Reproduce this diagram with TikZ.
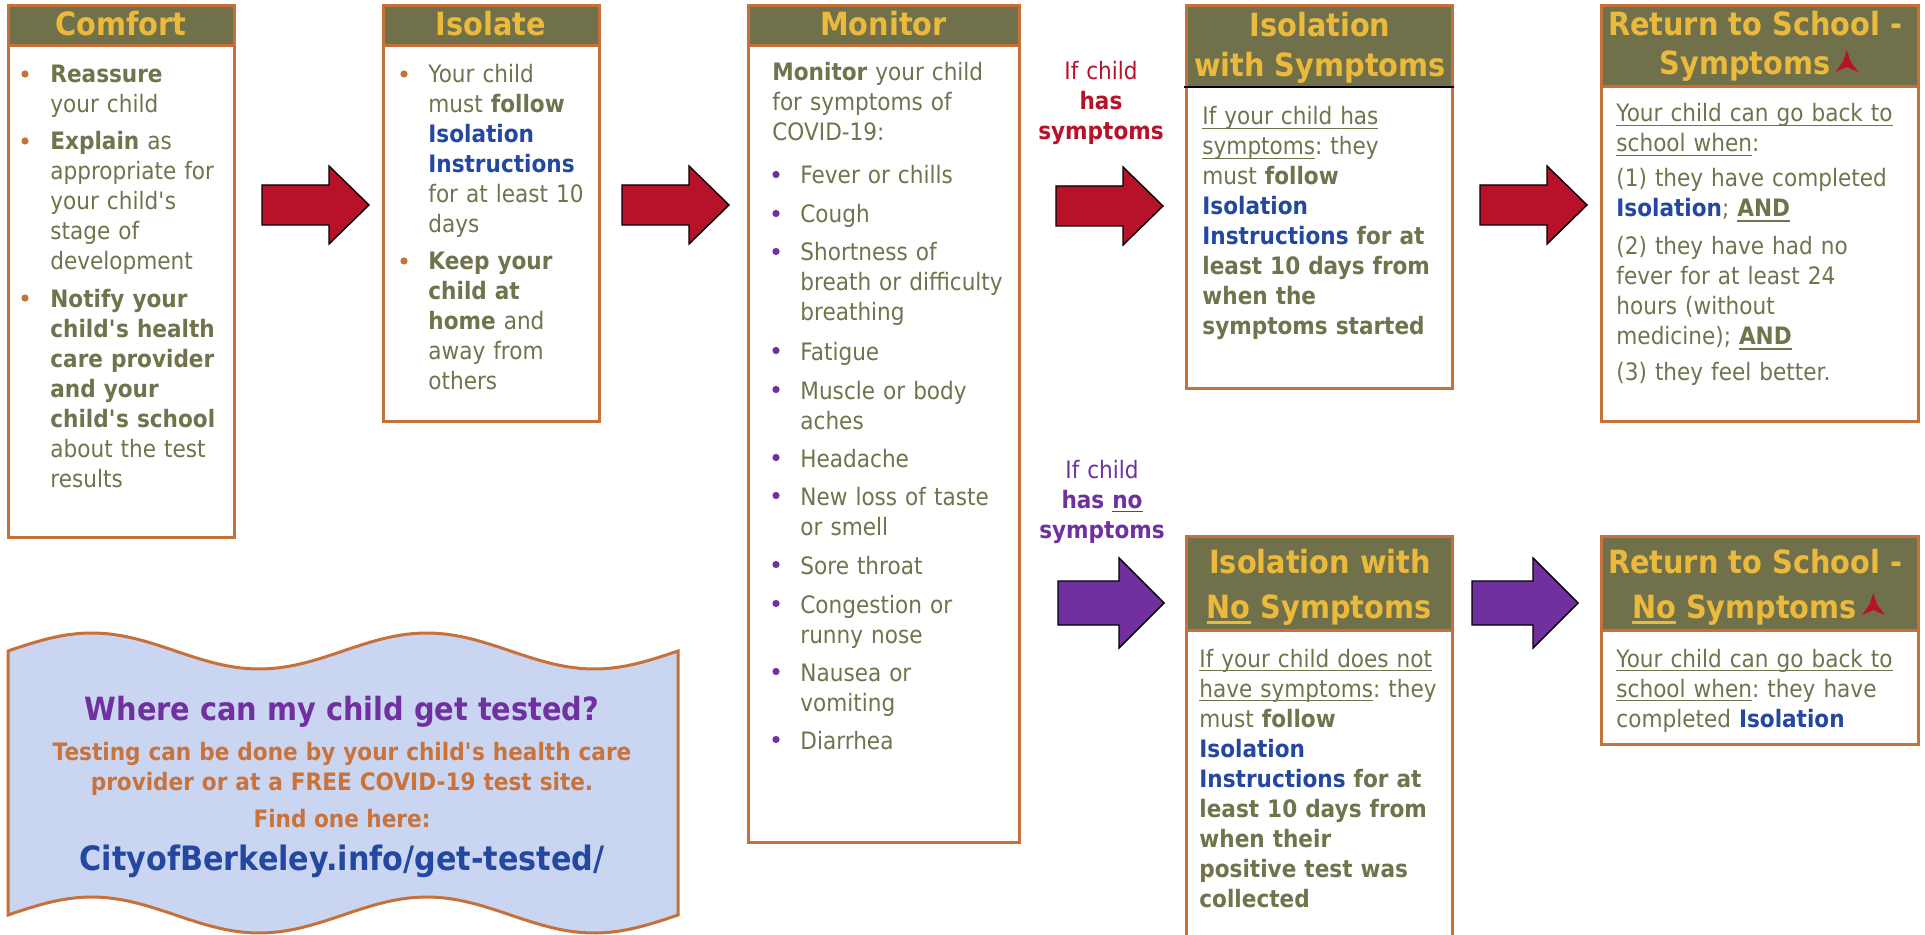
\documentclass[tikz,border=0pt]{standalone}
\usepackage{fontspec}
\setmainfont{DejaVu Sans}[FakeStretch=0.9]
\usetikzlibrary{fit,calc}
\definecolor{hdrc}{HTML}{70714A}
\definecolor{goldc}{HTML}{EBB93C}
\definecolor{borderc}{HTML}{C6703A}
\definecolor{txtc}{HTML}{71734C}
\definecolor{bluec}{HTML}{2447A0}
\definecolor{redc}{HTML}{B7122A}
\definecolor{purc}{HTML}{7030A0}
\definecolor{bannerc}{HTML}{CAD6F1}
\definecolor{orangec}{HTML}{C9733B}
\newcommand\myul[1]{\leavevmode\setbox0=\hbox{#1}\rlap{\vrule height -1.3pt depth 1.9pt width \wd0}\box0\relax}
\newcommand\myulb[1]{\leavevmode\setbox0=\hbox{#1}\rlap{\vrule height -1.3pt depth 2.3pt width \wd0}\box0\relax}
\newcommand\myulh[1]{\leavevmode\setbox0=\hbox{#1}\rlap{\vrule height -1.6pt depth 2.9pt width \wd0}\box0\relax}
\newcommand\ap{\textquotesingle}
\newcommand\hfnt{\fontsize{16}{20}\selectfont\bfseries\frenchspacing}
\newcommand\bfnt{\fontsize{12}{15}\selectfont\frenchspacing}
\tikzset{
  boxframe/.style={draw=borderc, line width=1.5pt, fill=white, inner sep=0pt},
  hdrbox/.style={draw=borderc, line width=1.5pt, fill=hdrc, inner sep=0pt},
  hdrtxt/.style={text=goldc, font=\hfnt, inner sep=0pt, anchor=base},
  bodytxt/.style={text=txtc, font=\bfnt, inner sep=0pt, anchor=base west, text width=170pt, align=left},
  lbl/.style={font=\bfnt, inner sep=0pt, anchor=base, text width=90pt, align=center},
  bul/.style={circle, inner sep=0pt, minimum size=3.6pt},
  obul/.style={bul, fill=borderc},
  pbul/.style={bul, fill=purc},
  redarrow/.pic={\path[draw=black, line width=0.7pt, fill=redc] (0,-20) -- (67,-20) -- (67,-39) -- (107,0) -- (67,39) -- (67,20) -- (0,20) -- cycle;},
  purarrow/.pic={\path[draw=black, line width=0.7pt, fill=purc] (0,-22) -- (61,-22) -- (61,-45) -- (106,0) -- (61,45) -- (61,22) -- (0,22) -- cycle;},
  tristar/.pic={\fill[redc] (270:13) -- (334:4) -- (38:14.5) -- (90:4) -- (142:14.5) -- (206:4) -- cycle;},
  bantxt/.style={inner sep=0pt, anchor=base, align=center}
}
\begin{document}
\begin{tikzpicture}[x=0.5pt, y=-0.5pt]
\useasboundingbox (0,0) rectangle (1925,935);
\fill[white] (0,0) rectangle (1925,935);

% ---------- Comfort ----------
\node[boxframe, fit={(8,6) (234,537)}] (comfort) {};
\node[hdrbox, fit={(8,6) (234,46)}] (comforthdr) {};
\node[hdrtxt] (comfortt) at (121,36) {Comfort};
\node[obul] (cb1) at (25,74) {};
\node[bodytxt] (ct1) at (50,83) {\textbf{Reassure}\\your child};
\node[obul] (cb2) at (25,141) {};
\node[bodytxt] (ct2) at (50,150) {\textbf{Explain} as\\appropriate for\\your child\ap s\\stage of\\development};
\node[obul] (cb3) at (25,298) {};
\node[bodytxt] (ct3) at (50,307) {\bfseries Notify your\\child\ap s health\\care provider\\and your\\child\ap s school\\\mdseries about the test\\results};

% ---------- Isolate ----------
\node[boxframe, fit={(383,6) (599,421)}] (isolate) {};
\node[hdrbox, fit={(383,6) (599,46)}] (isolatehdr) {};
\node[hdrtxt] (isolatet) at (491,36) {Isolate};
\node[obul] (ib1) at (404,74) {};
\node[bodytxt] (it1) at (428,83) {Your child\\must \textbf{follow}\\{\color{bluec}\bfseries Isolation}\\{\color{bluec}\bfseries Instructions}\\for at least 10\\days};
\node[obul] (ib2) at (404,261) {};
\node[bodytxt] (it2) at (428,270) {\bfseries Keep your\\child at\\home \mdseries and\\away from\\others};

% ---------- Monitor ----------
\node[boxframe, fit={(748,6) (1019,842)}] (monitor) {};
\node[hdrbox, fit={(748,6) (1019,46)}] (monitorhdr) {};
\node[hdrtxt] (monitort) at (883.5,36) {Monitor};
\node[bodytxt] (mintro) at (772,81) {\textbf{Monitor} your child\\for symptoms of\\COVID-19:};
\node[pbul] (mb1) at (776,174.5) {};
\node[bodytxt] (mt1) at (800,184) {Fever or chills};
\node[pbul] (mb2) at (776,213.5) {};
\node[bodytxt] (mt2) at (800,223) {Cough};
\node[pbul] (mb3) at (776,251.5) {};
\node[bodytxt] (mt3) at (800,261) {Shortness of\\breath or difficulty\\breathing};
\node[pbul] (mb4) at (776,350.5) {};
\node[bodytxt] (mt4) at (800,360) {Fatigue};
\node[pbul] (mb5) at (776,389.5) {};
\node[bodytxt] (mt5) at (800,399) {Muscle or body\\aches};
\node[pbul] (mb6) at (776,457.5) {};
\node[bodytxt] (mt6) at (800,467) {Headache};
\node[pbul] (mb7) at (776,495.5) {};
\node[bodytxt] (mt7) at (800,505) {New loss of taste\\or smell};
\node[pbul] (mb8) at (776,564.5) {};
\node[bodytxt] (mt8) at (800,574) {Sore throat};
\node[pbul] (mb9) at (776,603.5) {};
\node[bodytxt] (mt9) at (800,613) {Congestion or\\runny nose};
\node[pbul] (mb10) at (776,671.5) {};
\node[bodytxt] (mt10) at (800,681) {Nausea or\\vomiting};
\node[pbul] (mb11) at (776,739.5) {};
\node[bodytxt] (mt11) at (800,749) {Diarrhea};

% ---------- Isolation with Symptoms ----------
\node[boxframe, fit={(1186,6) (1452,388)}] (isosym) {};
\node[fill=hdrc, inner sep=0pt, fit={(1186,6) (1452,87)}] (isosymhdr) {};
\draw[borderc, line width=1.5pt] (1186,87) -- (1186,6) -- (1452,6) -- (1452,87);
\draw[black, line width=1.3pt] (1184,87) -- (1454,87);
\node[hdrtxt] (isosymt1) at (1320,37) {Isolation};
\node[hdrtxt] (isosymt2) at (1320,77) {with Symptoms};
\node[bodytxt] (isosymb) at (1202,125) {\myul{If your child has}\\\myul{symptoms}: they\\must \textbf{follow}\\{\color{bluec}\bfseries Isolation}\\{\color{bluec}\bfseries Instructions} \bfseries for at\\least 10 days from\\when the\\symptoms started};

% ---------- Return to School - Symptoms ----------
\node[boxframe, fit={(1601,6) (1918,421)}] (retsym) {};
\node[hdrbox, fit={(1601,6) (1918,87)}] (retsymhdr) {};
\node[hdrtxt] (retsymt1) at (1755,36) {Return to School -};
\node[hdrtxt] (retsymt2) at (1745,75) {Symptoms};
\pic at ($(retsymt2.base east)+(16,-12)$) {tristar};
\node[bodytxt] (rsp1) at (1616,122) {\myul{Your child can go back to}\\\myul{school when}:};
\node[bodytxt] (rsp2) at (1616,187) {(1) they have completed\\{\color{bluec}\bfseries Isolation}; \textbf{\myulb{AND}}};
\node[bodytxt] (rsp3) at (1616,255) {(2) they have had no\\fever for at least 24\\hours (without\\medicine); \textbf{\myulb{AND}}};
\node[bodytxt] (rsp4) at (1616,380) {(3) they feel better.};

% ---------- Isolation with No Symptoms ----------
\node[boxframe, fit={(1186,536) (1452,950)}] (isono) {};
\node[hdrbox, fit={(1186,536) (1452,630)}] (isonohdr) {};
\node[hdrtxt] (isonot1) at (1320,573) {Isolation with};
\node[hdrtxt] (isonot2) at (1319,618) {\myulh{No} Symptoms};
\node[bodytxt] (isonob) at (1199,667) {\myul{If your child does not}\\\myul{have symptoms}: they\\must \textbf{follow}\\{\color{bluec}\bfseries Isolation}\\{\color{bluec}\bfseries Instructions} \bfseries for at\\least 10 days from\\when their\\positive test was\\collected};

% ---------- Return to School - No Symptoms ----------
\node[boxframe, fit={(1601,536) (1918,744)}] (retno) {};
\node[hdrbox, fit={(1601,536) (1918,630)}] (retnohdr) {};
\node[hdrtxt] (retnot1) at (1755,573) {Return to School -};
\node[hdrtxt] (retnot2) at (1744.5,618) {\myulh{No} Symptoms};
\pic at ($(retnot2.base east)+(16,-12)$) {tristar};
\node[bodytxt] (rnb) at (1616,667) {\myul{Your child can go back to}\\\myul{school when}: they have\\completed {\color{bluec}\bfseries Isolation}};

% ---------- labels ----------
\node[lbl, text=redc] (haslbl) at (1101,80) {If child\\\textbf{has}\\\textbf{symptoms}};
\node[lbl, text=purc] (nolbl) at (1102,478) {If child\\\textbf{has \myul{no}}\\\textbf{symptoms}};

% ---------- arrows ----------
\pic (arrA) at (262,205) {redarrow};
\pic (arrB) at (622,205) {redarrow};
\pic (arrC) at (1056,206) {redarrow};
\pic (arrD) at (1480,205) {redarrow};
\pic (arrE) at (1058,603) {purarrow};
\pic (arrF) at (1472,603) {purarrow};

% ---------- banner ----------
\draw[draw=borderc, line width=1.5pt, fill=bannerc]
  plot[domain=8:678, samples=90] (\x, {651-18*sin(1.07463*(\x-8))})
  -- plot[domain=678:8, samples=90] (\x, {915-18*sin(1.07463*(\x-8))}) -- cycle;
\node[bantxt, font=\fontsize{16}{20}\selectfont\bfseries, text=purc] (bq) at (342,720) {Where can my child get tested?};
\node[bantxt, font=\fontsize{12}{15}\selectfont\bfseries, text=orangec, text width=330pt] (bt) at (342,760) {Testing can be done by your child\ap s health care\\provider or at a FREE COVID-19 test site.};
\node[bantxt, font=\fontsize{12}{15}\selectfont\bfseries, text=orangec] (bf) at (342,827) {Find one here:};
\node[bantxt, font=\fontsize{16.8}{20}\selectfont\bfseries, text=bluec] (burl) at (342,870) {CityofBerkeley.info/get-tested/};
\end{tikzpicture}
\end{document}
